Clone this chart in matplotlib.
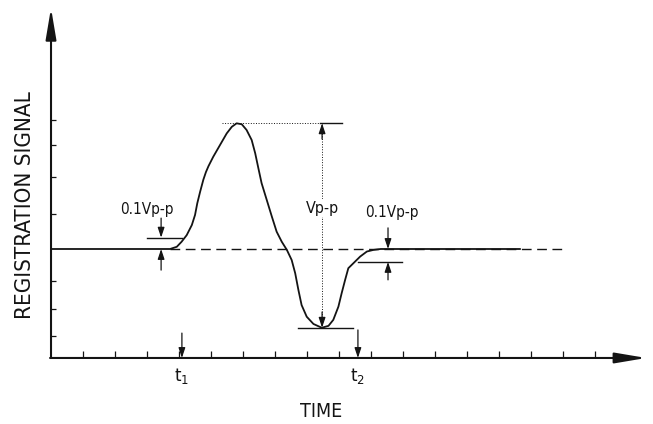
import matplotlib
matplotlib.use("Agg")
import matplotlib.pyplot as plt

# waveform (time in tick units, signal in tick-ish units, baseline = 0)
time = [0.0, 3.60, 3.72, 3.93, 4.08, 4.24, 4.40, 4.50, 4.57, 4.66, 4.76, 4.84, 4.92,
        5.07, 5.28, 5.49, 5.65, 5.80, 5.96, 6.11, 6.27, 6.38, 6.48, 6.58, 6.74,
        6.90, 7.05, 7.21, 7.37, 7.52, 7.63, 7.73, 7.83, 7.99, 8.20, 8.46, 8.67,
        8.82, 8.98, 9.08, 9.19, 9.29, 9.45, 9.66, 9.87, 10.07, 10.30, 14.66]
signal = [0.0, 0.0, 0.0, 0.07, 0.23, 0.44, 0.76, 1.08, 1.45, 1.82, 2.20, 2.44, 2.63,
          2.93, 3.30, 3.67, 3.88, 3.99, 3.96, 3.78, 3.46, 3.04, 2.56, 2.09, 1.56,
          1.03, 0.55, 0.23, -0.03, -0.35, -0.77, -1.30, -1.78, -2.15, -2.38, -2.50, -2.44,
          -2.25, -1.83, -1.41, -0.98, -0.61, -0.45, -0.24, -0.08, -0.03, 0.0, 0.0]

x_ticks = list(range(1, 18))
y_ticks = [4.10, 3.30, 2.29, 1.11, -1.02, -1.90, -2.76]

axis_origin = -3.46
x_axis_end = 18.6
y_axis_end = 7.65

v_peak = 3.99
v_trough = -2.50
t_vpp = 8.47
t1 = 4.09
t2 = 9.59
start_thresh = 0.36     # 0.1 Vp-p line above baseline at start
end_thresh = -0.41      # 0.1 Vp-p line below baseline at end
t_start_marker = 3.44
t_end_marker = 10.53

ink = "#141414"
font = ["DejaVu Sans", "Liberation Sans"]

fig = plt.figure(figsize=(6.53, 4.24), dpi=100)
ax = fig.add_axes([0, 0, 1, 1])
ax.set_xlim(-1.594, 18.81)
ax.set_ylim(-5.556, 7.905)
ax.axis("off")

# axes with arrow heads
axis_arrow = dict(arrowstyle="-|>,head_length=1.9,head_width=0.32", lw=1.5,
                  color=ink, shrinkA=0, shrinkB=0)
ax.annotate("", xy=(0, y_axis_end), xytext=(0, axis_origin), arrowprops=axis_arrow)
ax.annotate("", xy=(x_axis_end, axis_origin), xytext=(-0.03, axis_origin), arrowprops=axis_arrow)

ax.vlines(x_ticks, axis_origin, axis_origin + 0.22, color=ink, lw=0.9)
ax.hlines(y_ticks, 0, 0.16, color=ink, lw=0.9)

# signal
ax.plot(time, signal, color=ink, lw=1.3, solid_joinstyle="round", solid_capstyle="round")
ax.plot([3.72, 16.06], [0, 0], color=ink, lw=1.0, dashes=(7, 4))

# peak / trough reference lines
ax.plot([5.34, 8.4], [v_peak, v_peak], color=ink, lw=0.7, ls=":")
ax.plot([8.4, 9.09], [v_peak, v_peak], color=ink, lw=1.0)
ax.plot([7.72, 9.44], [v_trough, v_trough], color=ink, lw=1.0)

small = dict(arrowstyle="-|>,head_length=0.6,head_width=0.2", lw=0.9,
             color=ink, shrinkA=0, shrinkB=0)
ax.plot([t_vpp, t_vpp], [v_peak, v_trough], color=ink, lw=0.7, ls=":")
ax.annotate("", xy=(t_vpp, v_peak), xytext=(t_vpp, v_peak - 0.5), arrowprops=small)
ax.annotate("", xy=(t_vpp, v_trough), xytext=(t_vpp, v_trough + 0.5), arrowprops=small)
ax.text(t_vpp, 1.30, "Vp-p", ha="center", va="center", fontsize=11.5, family=font,
        fontstretch="condensed", color=ink,
        bbox=dict(facecolor="white", edgecolor="none", pad=1))

# 0.1 Vp-p at the start
ax.plot([3.0, t1], [start_thresh, start_thresh], color=ink, lw=1.0)
ax.annotate("", xy=(t_start_marker, start_thresh), xytext=(t_start_marker, 0.98), arrowprops=small)
ax.annotate("", xy=(t_start_marker, 0), xytext=(t_start_marker, -0.67), arrowprops=small)
ax.text(3.0, 1.24, "0.1Vp-p", ha="center", va="center", fontsize=11, family=font,
        fontstretch="condensed", color=ink)

# 0.1 Vp-p at the end
ax.plot([t2, 10.97], [end_thresh, end_thresh], color=ink, lw=1.0)
ax.annotate("", xy=(t_end_marker, 0), xytext=(t_end_marker, 0.67), arrowprops=small)
ax.annotate("", xy=(t_end_marker, end_thresh), xytext=(t_end_marker, -0.98), arrowprops=small)
ax.text(10.66, 1.17, "0.1Vp-p", ha="center", va="center", fontsize=11, family=font,
        fontstretch="condensed", color=ink)

# t1 / t2 markers
ax.annotate("", xy=(t1, axis_origin), xytext=(t1, -2.67), arrowprops=small)
ax.annotate("", xy=(t2, axis_origin), xytext=(t2, -2.57), arrowprops=small)
ax.text(t1, -4.03, r"t$_1$", ha="center", va="center", fontsize=12, family=font, color=ink)
ax.text(t2, -4.03, r"t$_2$", ha="center", va="center", fontsize=12, family=font, color=ink)

ax.text(8.44, -5.17, "TIME", ha="center", va="center", fontsize=14, family=font,
        fontstretch="condensed", color=ink)
ax.text(-0.81, 1.40, "REGISTRATION SIGNAL", ha="center", va="center", rotation=90,
        fontsize=16, family=font, fontstretch="condensed", color=ink)

fig.savefig("out.png", dpi=100)
